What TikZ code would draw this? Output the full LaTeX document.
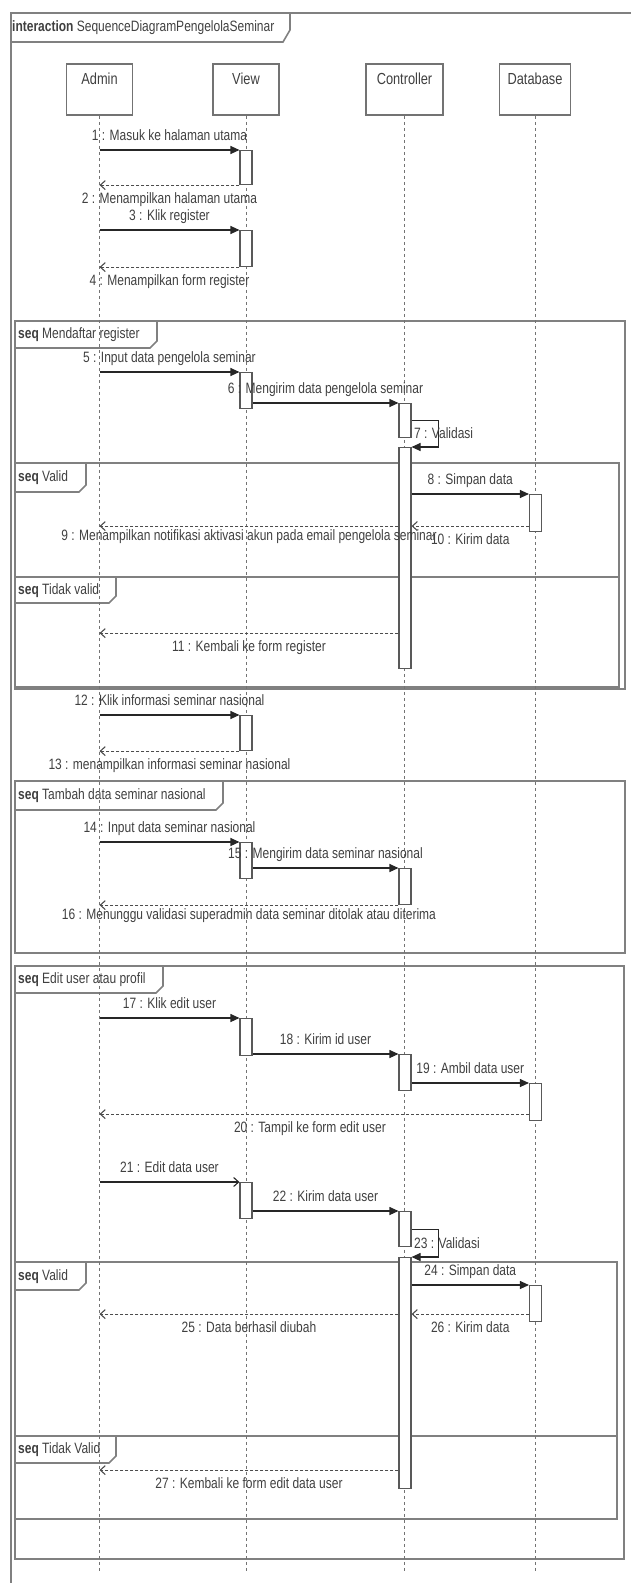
\documentclass[tikz,border=0pt]{standalone}
\usepackage{fontspec}
\setmainfont[FakeStretch=0.8]{Liberation Sans}
\usetikzlibrary{arrows.meta,positioning}

\newcommand{\seqframe}[8]{%
  \draw[frm] (#2,#3) rectangle (#4,#5);
  \draw[frm] (#2,#7) -- ({#6-7},#7) -- (#6,{#7-7}) -- (#6,#3);
  \node[tab] (#1) at ({#2+1},{(#3+#7)/2}) {\textbf{seq} #8};}

\begin{document}
\begin{tikzpicture}[x=1pt,y=-1pt,font=\fontsize{15}{17}\selectfont,text=black!75,
  every node/.style={inner sep=2pt,text height=11pt,text depth=3pt},
  head/.style={draw=black!55,line width=1.5pt,fill=white,minimum height=51pt,minimum width=#1,inner sep=0pt},
  htxt/.style={font=\fontsize{16}{18}\selectfont},
  life/.style={draw=black!55,line width=0.9pt,dash pattern=on 3pt off 3pt},
  act/.style={draw=black!65,fill=white,line width=1.1pt,minimum width=12pt,minimum height=#1,inner sep=0pt,anchor=north},
  frm/.style={draw=black!50,line width=1.6pt},
  tab/.style={anchor=west},
  call/.style={draw=black!85,line width=1.1pt,-{Triangle[length=9pt,width=8pt]}},
  async/.style={draw=black!85,line width=1.1pt,-{Straight Barb[length=5pt,width=9pt]}},
  reply/.style={draw=black!70,line width=1.1pt,densely dashed,-{Straight Barb[length=5pt,width=9pt]}}]
\useasboundingbox (0,0) rectangle (630,1583);

\draw[frm] (11,1590) -- (11,13) -- (640,13);
\draw[frm] (11,42) -- (283,42) -- (290,30) -- (290,13);
\node[tab] (title) at (10,27.5) {\textbf{interaction} SequenceDiagramPengelolaSeminar};

\seqframe{f1}{15}{321}{625}{689}{157}{348}{Mendaftar register}
\seqframe{f2}{15}{463}{619}{577}{86}{492}{Valid}
\seqframe{f3}{15}{577}{619}{687}{116}{603}{Tidak valid}
\seqframe{f4}{15}{781}{625}{953}{223}{810}{Tambah data seminar nasional}
\seqframe{f5}{15}{966}{624}{1559}{163}{993}{Edit user atau profil}
\seqframe{f6}{15}{1262}{617}{1436}{86}{1290}{Valid}
\seqframe{f7}{15}{1436}{617}{1519}{116}{1463}{Tidak Valid}

\node[head=66pt] (admin) at (99.5,89.5) {};
\node[head=66pt] (view) at (246,89.5) {};
\node[head=77pt] (ctrl) at (404.5,89.5) {};
\node[head=71pt] (db) at (535,89.5) {};
\node[htxt,below=8pt of admin.north] (admin-t) {Admin};
\node[htxt,below=8pt of view.north] (view-t) {View};
\node[htxt,below=8pt of ctrl.north] (ctrl-t) {Controller};
\node[htxt,below=8pt of db.north] (db-t) {Database};
\foreach \l in {admin,view,ctrl,db}
  \draw[life] (\l.south) -- ++(0,1457);

\node[act=34pt] (v1) at (246,150) {};
\node[act=36pt] (v2) at (246,230) {};
\node[act=36pt] (v3) at (246,372) {};
\node[act=34pt] (c1) at (405,403) {};
\node[act=221pt] (c2) at (405,447) {};
\node[act=37pt] (d1) at (535.5,494) {};
\node[act=35pt] (v4) at (246,715) {};
\node[act=36pt] (v5) at (246,842) {};
\node[act=36pt] (c3) at (405,868) {};
\node[act=37pt] (v6) at (246,1018) {};
\node[act=36pt] (c4) at (405,1054) {};
\node[act=37pt] (d2) at (535.5,1083) {};
\node[act=36pt] (v7) at (246,1182) {};
\node[act=35pt] (c5) at (405,1211) {};
\node[act=231pt] (c6) at (405,1257) {};
\node[act=36pt] (d3) at (535.5,1285) {};

\draw[call] (admin |- v1.north) -- node[above=4pt] (l1) {1 : Masuk ke halaman utama} (v1.north west);
\draw[reply] (v1.south west) -- node[below=5pt] (l2) {2 : Menampilkan halaman utama} (admin |- v1.south);
\draw[call] (admin |- v2.north) -- node[above=4pt] (l3) {3 : Klik register} (v2.north west);
\draw[reply] (v2.south west) -- node[below=5pt] (l4) {4 : Menampilkan form register} (admin |- v2.south);

\draw[call] (admin |- v3.north) -- node[above=4pt] (l5) {5 : Input data pengelola seminar} (v3.north west);
\draw[call] (v3.east |- c1.north) -- node[above=4pt] (l6) {6 : Mengirim data pengelola seminar} (c1.north west);
\draw[call] (c1.east) -- ++(27,0) |- (c2.north east);
\node[anchor=west] (l7) at (412,434) {7 : Validasi};
\draw[call] (c2.east |- d1.north) -- node[above=4pt] (l8) {8 : Simpan data} (d1.north west);
\draw[reply] ([yshift=6pt]d1.south west) coordinate (r10) -- node[below=5pt] (l10) {10 : Kirim data} (c2.east |- r10);
\draw[reply] (c2.west |- r10) -- node[below=1pt] (l9) {9 : Menampilkan notifikasi aktivasi akun pada email pengelola seminar} (admin |- r10);
\draw[reply] ([yshift=36pt]c2.south west) coordinate (r11) -- node[below=5pt] (l11) {11 : Kembali ke form register} (admin |- r11);

\draw[call] (admin |- v4.north) -- node[above=4pt] (l12) {12 : Klik informasi seminar nasional} (v4.north west);
\draw[reply] (v4.south west) -- node[below=5pt] (l13) {13 : menampilkan informasi seminar nasional} (admin |- v4.south);

\draw[call] (admin |- v5.north) -- node[above=4pt] (l14) {14 : Input data seminar nasional} (v5.north west);
\draw[call] (v5.east |- c3.north) -- node[above=4pt] (l15) {15 : Mengirim data seminar nasional} (c3.north west);
\draw[reply] (c3.south west) -- node[below=1pt] (l16) {16 : Menunggu validasi superadmin data seminar ditolak atau diterima} (admin |- c3.south);

\draw[call] (admin |- v6.north) -- node[above=4pt] (l17) {17 : Klik edit user} (v6.north west);
\draw[call] (v6.east |- c4.north) -- node[above=4pt] (l18) {18 : Kirim id user} (c4.north west);
\draw[call] (c4.east |- d2.north) -- node[above=4pt] (l19) {19 : Ambil data user} (d2.north west);
\draw[reply] ([yshift=7pt]d2.south west) coordinate (r20) -- node[below=5pt,pos=0.51] (l20) {20 : Tampil ke form edit user} (admin |- r20);

\draw[async] (admin |- v7.north) -- node[above=4pt] (l21) {21 : Edit data user} (v7.north west);
\draw[call] (v7.east |- c5.north) -- node[above=4pt] (l22) {22 : Kirim data user} (c5.north west);
\draw[call] (c5.east) -- ++(27,0) |- (c6.north east);
\node[anchor=west] (l23) at (412,1244) {23 : Validasi};
\draw[call] (c6.east |- d3.north) -- node[above=4pt] (l24) {24 : Simpan data} (d3.north west);
\draw[reply] ([yshift=8pt]d3.south west) coordinate (r26) -- node[below=5pt] (l26) {26 : Kirim data} (c6.east |- r26);
\draw[reply] (c6.west |- r26) -- node[below=5pt] (l25) {25 : Data berhasil diubah} (admin |- r26);
\draw[reply] ([yshift=19pt]c6.south west) coordinate (r27) -- node[below=5pt] (l27) {27 : Kembali ke form edit data user} (admin |- r27);
\end{tikzpicture}
\end{document}
